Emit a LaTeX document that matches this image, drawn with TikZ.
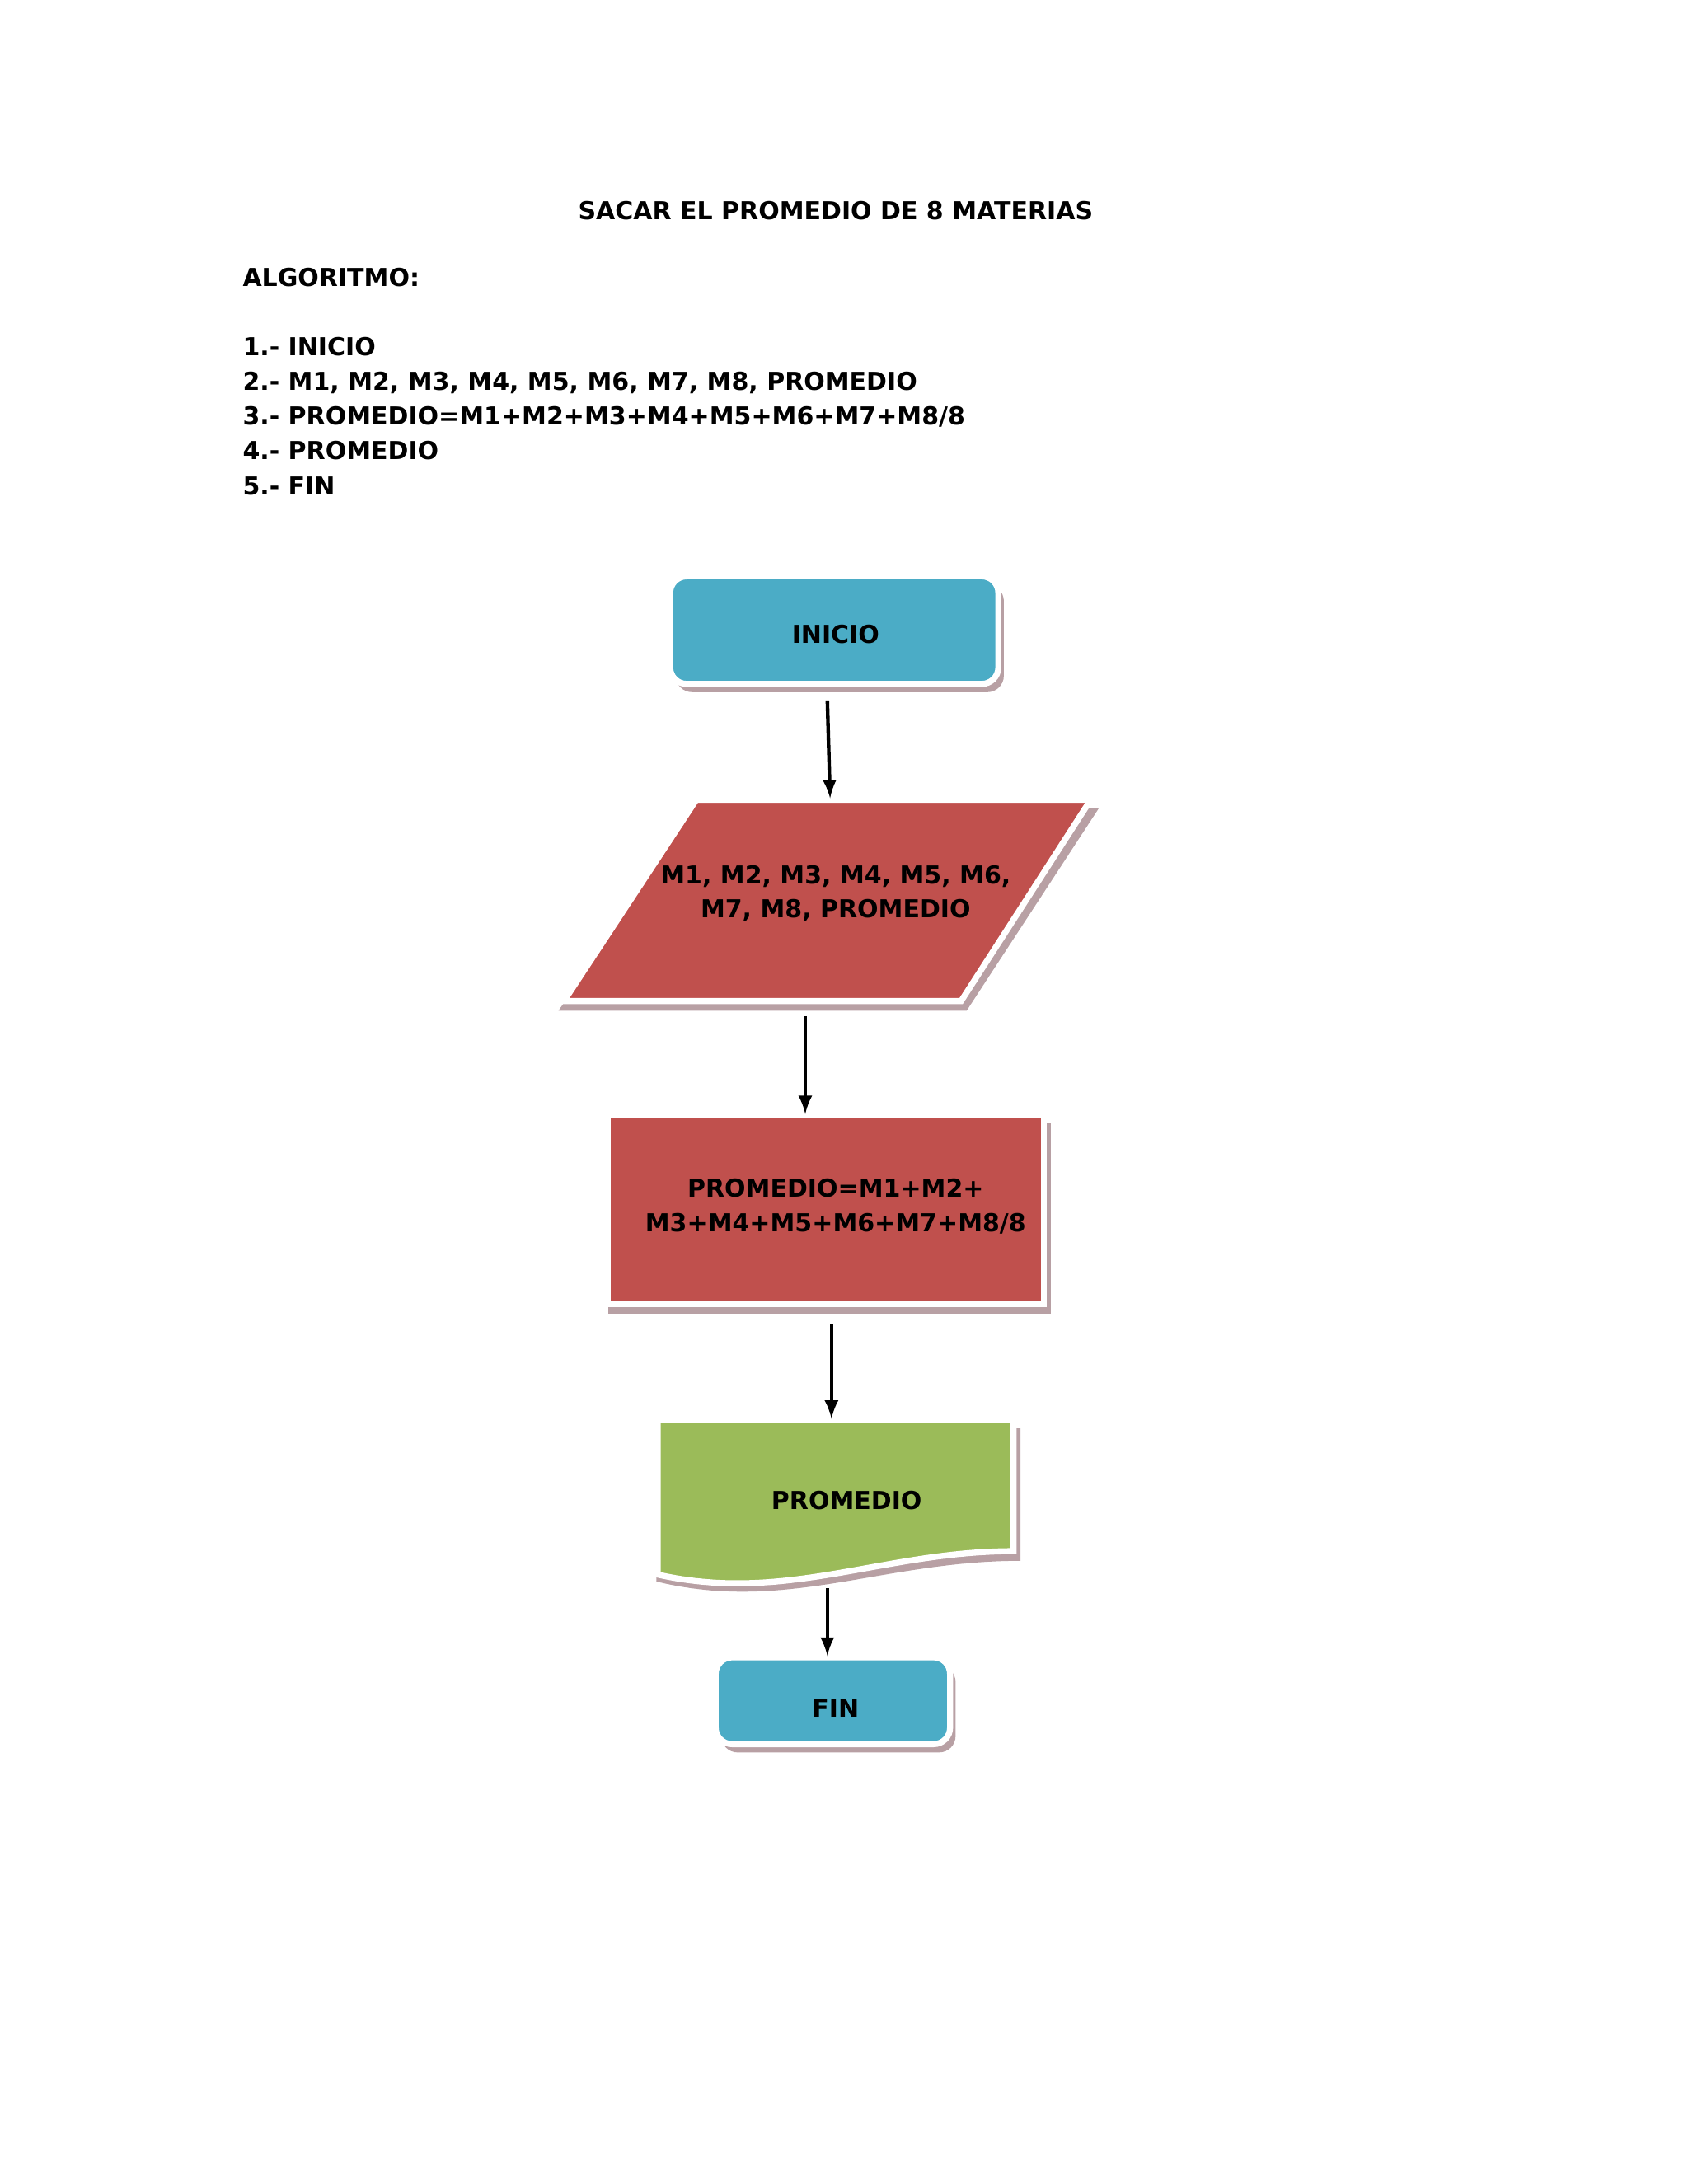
\documentclass[tikz,border=0pt]{standalone}
\usepackage{fontspec}
\setmainfont{DejaVu Sans}
\definecolor{tealbox}{HTML}{4BACC6}
\definecolor{redbox}{HTML}{C0504D}
\definecolor{greenbox}{HTML}{9BBB59}
\definecolor{shade}{HTML}{B8A0A4}
\begin{document}
\begin{tikzpicture}[x=0.01764cm,y=-0.01764cm,
  label/.style={font=\bfseries\fontsize{9}{12.5}\selectfont,align=center},
  line/.style={font=\bfseries\fontsize{9}{12.5}\selectfont,anchor=base west},
  box/.style={draw=white,line width=2.2pt},
  shadow/.style={fill=shade,draw=none},
  arrow/.style={-latex,line width=1.3pt}]
\useasboundingbox (0,0) rectangle (1224,1584);

% texto del algoritmo
\node[label] (title) at (606,153) {SACAR EL PROMEDIO DE 8 MATERIAS};
\node[line] (alg) at (169,208) {ALGORITMO:};
\node[line] (s1) at (169,258) {1.- INICIO};
\node[line] (s2) at (169,283) {2.- M1, M2, M3, M4, M5, M6, M7, M8, PROMEDIO};
\node[line] (s3) at (169,308) {3.- PROMEDIO=M1+M2+M3+M4+M5+M6+M7+M8/8};
\node[line] (s4) at (169,333) {4.- PROMEDIO};
\node[line] (s5) at (169,359) {5.- FIN};

% INICIO
\fill[shadow,rounded corners=6] (490,424) rectangle (728,502);
\draw[box,fill=tealbox,rounded corners=6] (486,418) rectangle (724,496);
\node[label] (inicio) at (606,460) {INICIO};

% entrada
\fill[shadow] (508,586) -- (797,586) -- (701,733) -- (405,733) -- cycle;
\draw[box,fill=redbox] (505,580) -- (791,580) -- (697,726) -- (409,726) -- cycle;
\node[label] (datos) at (606,648) {M1, M2, M3, M4, M5, M6,\\M7, M8, PROMEDIO};

% proceso
\fill[shadow] (441,815) rectangle (762,953);
\draw[box,fill=redbox] (441,809) rectangle (757,946);
\node[label] (proceso) at (606,875) {PROMEDIO=M1+M2+\\M3+M4+M5+M6+M7+M8/8};

% salida
\fill[shadow] (476,1036) -- (740,1036) -- (740,1132) .. controls (640,1132) and (570,1170) .. (476,1147) -- cycle;
\draw[box,fill=greenbox] (477,1030) -- (735,1030) -- (735,1125) .. controls (640,1125) and (570,1163) .. (477,1142) -- cycle;
\node[label] (salida) at (614,1088) {PROMEDIO};

% FIN
\fill[shadow,rounded corners=6] (523,1208) rectangle (693,1271);
\draw[box,fill=tealbox,rounded corners=6] (519,1202) rectangle (689,1265);
\node[label] (fin) at (606,1239) {FIN};

% flechas
\coordinate (a1) at (600,508); \coordinate (b1) at (602,579);
\coordinate (a2) at (584,737); \coordinate (b2) at (584,808);
\coordinate (a3) at (603,960); \coordinate (b3) at (603,1029);
\coordinate (a4) at (600,1152); \coordinate (b4) at (600,1201);
\draw[arrow] (a1) -- (b1);
\draw[arrow] (a2) -- (b2);
\draw[arrow] (a3) -- (b3);
\draw[arrow] (a4) -- (b4);
\end{tikzpicture}
\end{document}
